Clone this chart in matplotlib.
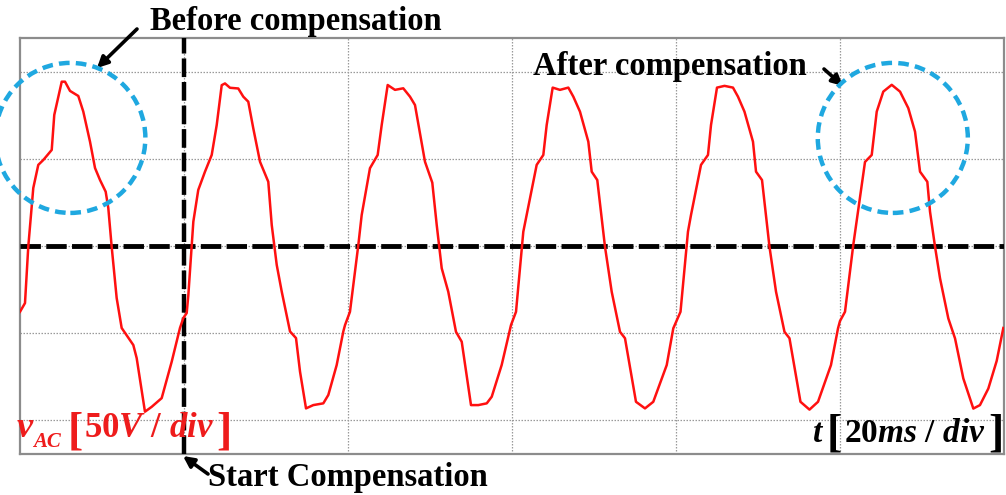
import matplotlib
matplotlib.use("Agg")
import matplotlib.pyplot as plt
from matplotlib.patches import Ellipse

# ===============================
# WAVEFORM DATA
# time in ms (20 ms/div), voltage in V (50 V/div)
# ===============================

# period 1 - before compensation
t_before = [0.06, 0.67, 1.07, 1.68, 2.29, 2.90, 3.93, 4.24, 5.15, 5.55, 6.16, 7.17,
            7.78, 8.60, 9.21, 9.82, 10.51, 10.83, 11.24, 11.85, 12.46, 13.88, 14.29,
            15.30, 16.12, 17.34, 18.56, 19.57, 19.98]
v_before = [-37.8, -32.8, -0.4, 33.3, 46.6, 49.4, 55.2, 75.3, 94.4, 94.4, 89.1, 86.2,
            77.2, 59.9, 44.8, 37.9, 31.2, 21.8, -0.4, -29.9, -47.1, -56.9, -64.4,
            -95.2, -92.4, -87.4, -66.5, -47.1, -41.4]

# periods 2..6 - after compensation
t_after = [20.39, 20.59, 21.20, 21.80, 22.62, 23.44, 24.05, 24.66, 25.06, 25.67, 26.68,
           27.29, 27.90, 28.51, 29.33, 30.34, 30.76, 31.37, 31.98, 32.99, 33.72, 34.21,
           34.94, 35.83, 37.05, 37.66, 38.68, 39.49,
           39.70, 40.30, 41.32, 41.73, 42.74, 43.68, 44.17, 44.90, 45.79, 46.80, 47.62,
           48.23, 49.45, 50.34, 50.88, 51.49, 52.29, 53.23, 53.93, 55.06, 55.95, 56.98,
           57.59, 58.80, 59.94,
           60.55, 61.44, 61.85, 63.07, 63.88, 64.29, 65.02, 65.91, 66.93, 67.54, 68.35,
           69.37, 69.78, 70.46, 71.40, 72.22, 73.23, 73.84, 75.18, 76.28, 77.29, 78.93,
           79.73,
           80.61, 81.52, 81.89, 83.11, 83.96, 84.33, 85.06, 85.98, 87.01, 87.62, 88.41,
           89.45, 89.82, 90.55, 91.46, 92.26, 93.29, 93.90, 95.24, 96.34, 97.38, 98.96,
           99.82,
           100.06, 100.67, 101.68, 103.11, 103.93, 104.54, 105.34, 106.37, 107.38, 108.39,
           109.21, 109.82, 110.71, 111.04, 111.65, 112.26, 113.27, 114.09, 115.10, 116.32,
           117.13, 118.15, 119.17, 119.98]
v_after = [-38.5, -28.2, 14.0, 32.2, 42.7, 52.3, 69.5, 92.4, 93.4, 90.9, 90.5,
           85.8, 82.9, 67.6, 48.4, 36.9, 12.1, -10.9, -26.2, -49.1, -52.9, -72.2,
           -93.3, -91.4, -90.4, -85.6, -68.4, -49.1,
           -45.4, -37.8, 0.6, 17.8, 44.7, 52.3, 69.5, 92.5, 89.7, 90.6, 85.8,
           81.0, 48.4, 36.4, 12.1, -12.8, -26.3, -49.3, -55.0, -91.4, -91.4, -90.4,
           -86.6, -68.4, -45.4,
           -37.8, 8.2, 17.8, 46.6, 52.3, 69.5, 91.0, 89.7, 91.0, 85.8, 77.2,
           59.9, 42.7, 37.9, -0.4, -26.3, -49.3, -53.0, -89.5, -93.3, -89.5, -68.4,
           -47.3,
           -37.8, 8.2, 17.8, 46.6, 52.3, 69.5, 91.0, 92.0, 91.0, 85.8, 77.2,
           59.9, 42.7, 37.9, -0.4, -26.3, -49.3, -53.0, -89.5, -94.0, -89.5, -68.4,
           -47.3,
           -43.1, -37.8, 0.6, 48.3, 52.3, 77.2, 88.7, 92.6, 88.7, 79.2,
           65.7, 42.7, 36.9, 19.7, -0.4, -18.6, -41.6, -53.1, -76.1, -93.4,
           -91.4, -81.9, -66.0, -47.1]

t_divs = [0, 20, 40, 60, 80, 100, 120]
v_divs = [-100, -50, 0, 50, 100]
t_start = 20

# ===============================
# PLOTTING
# ===============================

plt.rcParams['mathtext.fontset'] = 'custom'
plt.rcParams['mathtext.rm'] = 'Liberation Serif:bold'
plt.rcParams['mathtext.it'] = 'Liberation Serif:italic:bold'
plt.rcParams['mathtext.bf'] = 'Liberation Serif:bold'

W, H = 1006, 495
fig = plt.figure(figsize=(W / 100, H / 100), dpi=100)
ax = fig.add_axes([19.5 / W, 1 - 454 / H, 984 / W, 416 / H])

ax.plot(t_before + t_after, v_before + v_after, color='#ff1010', lw=1.8, zorder=4)

ax.set_xlim(0, 120)
ax.set_ylim(-119.5, 119.5)
ax.set_xticks(t_divs[1:-1])
ax.set_yticks(v_divs)
ax.tick_params(length=0, labelbottom=False, labelleft=False)
ax.grid(True, color='#9a9a9a', lw=0.9, linestyle=(0, (1.2, 1.2)))
for s in ax.spines.values():
    s.set_color('#8c8c8c')
    s.set_linewidth(1.6)

# zero line and compensation start marker
ax.axhline(0, color='k', lw=3.5, linestyle=(0, (4.2, 1.1)), zorder=3)
ax.axvline(t_start, color='k', lw=3.2, linestyle=(0, (4.2, 1.1)), zorder=3)

# highlight circles
circ_col = '#1fa8e0'
for cx in (6.2, 106.5):
    ax.add_patch(Ellipse((cx, 62.1), 18.3, 86.2, fill=False, ec=circ_col, lw=3.2,
                         linestyle=(0, (2.4, 1.4)), clip_on=False, zorder=5))


def px(x, y):
    return (x / W, 1 - y / H)


bold = dict(family='Liberation Serif', fontweight='bold')
bi = dict(family='Liberation Serif', fontweight='bold', style='italic')

fig.text(*px(150, 30), 'Before compensation', fontsize=23.5, ha='left', va='baseline', **bold)
fig.text(*px(533, 75), 'After compensation', fontsize=23.5, ha='left', va='baseline', **bold)
fig.text(*px(208, 486), 'Start Compensation', fontsize=23.5, ha='left', va='baseline', **bold)

arrow = dict(arrowstyle='-|>', lw=2.6, color='k', mutation_scale=16, shrinkA=0, shrinkB=0)
ax.annotate('', xy=(97, H - 68), xytext=(137, H - 29), xycoords='figure pixels',
            textcoords='figure pixels', arrowprops=arrow)
ax.annotate('', xy=(843, H - 86), xytext=(824, H - 69), xycoords='figure pixels',
            textcoords='figure pixels', arrowprops=arrow)
ax.annotate('', xy=(183, H - 456), xytext=(208, H - 474), xycoords='figure pixels',
            textcoords='figure pixels', arrowprops=arrow)

# scale labels
red = '#ee1c1c'
fig.text(*px(17, 437), 'v', fontsize=26, color=red, ha='left', va='baseline', **bi)
fig.text(*px(33, 447), 'AC', fontsize=15, color=red, ha='left', va='baseline', **bi)
fig.text(*px(68, 444), '[', fontsize=33, color=red, ha='left', va='baseline', **bold)
fig.text(*px(84, 437), r'$50V\ /\ div$', fontsize=25, color=red, ha='left', va='baseline')
fig.text(*px(216, 444), ']', fontsize=33, color=red, ha='left', va='baseline', **bold)

fig.text(*px(813, 442), 't', fontsize=24, color='k', ha='left', va='baseline', **bi)
fig.text(*px(827, 446), '[', fontsize=33, color='k', ha='left', va='baseline', **bold)
fig.text(*px(844, 442), r'$20ms\ /\ div$', fontsize=24, color='k', ha='left', va='baseline')
fig.text(*px(988, 446), ']', fontsize=33, color='k', ha='left', va='baseline', **bold)

plt.savefig('out.png', dpi=100)
